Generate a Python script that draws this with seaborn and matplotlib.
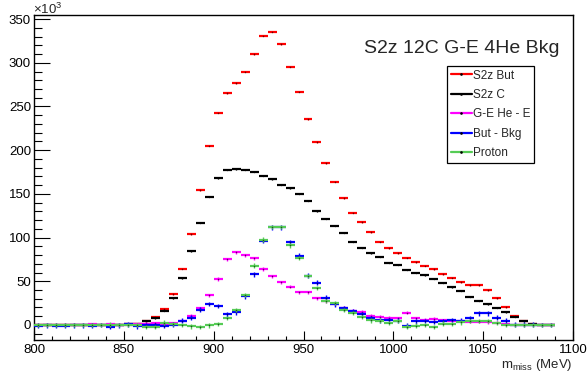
import numpy as np
import pandas as pd
import matplotlib
matplotlib.use("Agg")
import matplotlib.pyplot as plt
from matplotlib.lines import Line2D
import seaborn as sns

# Histogram binning: 5 MeV bins starting at 800 MeV
bin_low = 800.0
bin_width = 5.0

# Bin contents, in units of 10^3 counts
s2z_but = [0.0, 0.0, 0.0, 0.0, 0.0, 0.0, 0.0, 0.0, 0.0, 0.3,
           1.2, 1.0, 4.0, 9.2, 18.0, 35.0, 64.1, 104.1, 154.1, 205.2,
           242.9, 265.3, 276.7, 289.7, 309.7, 330.7, 335.6, 321.3, 295.6, 266.9,
           235.5, 209.4, 185.0, 164.0, 145.0, 128.5, 117.5, 106.4, 95.3, 87.8,
           82.2, 77.2, 71.7, 67.9, 64.0, 58.0, 54.0, 49.0, 45.2, 45.2,
           39.8, 30.7, 20.0, 10.3, 4.6, 1.5, 0.2, 0.1]
s2z_c = [0.0, 0.0, 0.0, 0.0, 0.0, 0.0, 0.0, 0.0, 0.0, 0.2,
         1.5, 1.0, 4.2, 7.6, 16.4, 30.5, 53.6, 84.5, 117.1, 146.5,
         167.8, 177.4, 178.5, 177.4, 175.1, 170.5, 167.0, 160.4, 156.6, 150.1,
         142.1, 130.1, 121.8, 113.6, 105.4, 95.5, 88.5, 82.2, 77.9, 71.3,
         68.8, 63.3, 59.8, 56.8, 53.0, 48.4, 43.1, 38.9, 32.4, 27.8,
         23.7, 19.5, 14.7, 9.5, 4.0, 1.2, 0.2, 0.1]
ge_he_e = [0.3, 0.2, 0.5, 0.2, 0.3, 0.4, 1.0, 0.4, 0.6, 0.3,
           0.5, 0.6, 1.5, 1.9, 1.5, 1.9, 4.9, 10.3, 19.2, 34.2,
           52.6, 75.2, 83.2, 79.7, 76.1, 64.1, 55.9, 48.6, 43.7, 37.2,
           37.2, 30.5, 27.5, 24.0, 19.8, 16.0, 14.9, 10.6, 9.5, 8.4,
           7.5, 14.1, 7.6, 6.1, 6.9, 5.3, 4.9, 4.9, 3.8, 3.8,
           3.4, 2.6, 0.6, 0.3, 0.2, 0.1, 0.1, 0.1]
but_bkg = [-1.1, -0.3, -1.0, -1.1, -0.5, -0.2, -1.0, 0.0, -1.9, -0.3,
           0.9, -1.7, 0.0, -0.5, -0.9, 0.5, 5.1, 8.4, 17.2, 24.0,
           21.7, 12.4, 14.7, 32.6, 57.8, 96.1, 112.0, 111.8, 94.6, 79.1,
           56.1, 48.1, 31.2, 23.7, 19.1, 16.0, 12.2, 7.6, 5.3, 5.7,
           5.0, -1.0, 4.0, 4.6, 3.4, 4.2, 5.7, 4.9, 7.6, 13.5,
           13.5, 8.4, 4.9, 0.2, 0.1, 0.1, 0.0, 0.0]
proton = [0.3, 0.0, -0.3, 0.2, 0.0, 0.3, -0.2, 0.2, 0.5, 0.0,
          -0.3, 0.3, -2.5, -2.0, 2.8, 1.1, 0.3, -1.7, -2.3, -0.4,
          1.0, 8.2, 17.3, 34.5, 67.9, 97.6, 112.3, 112.3, 91.0, 76.7,
          56.1, 42.5, 27.5, 25.5, 17.2, 13.4, 8.8, 5.3, 5.0, 2.6,
          4.5, -1.9, -0.8, 0.0, -2.3, 1.5, 0.8, 3.0, 4.2, 4.6,
          4.6, 2.3, 0.0, 0.0, 0.0, 0.0, 0.0, 0.0]

# Statistical uncertainty per bin (10^3 counts) for each histogram
errors = {"S2z But": 0.6, "S2z C": 0.6, "G-E He - E": 1.8,
          "But - Bkg": 2.8, "Proton": 2.5}

series_names = ["S2z But", "S2z C", "G-E He - E", "But - Bkg", "Proton"]
series_values = [s2z_but, s2z_c, ge_he_e, but_bkg, proton]
colors = {"S2z But": "#ff0000", "S2z C": "#000000", "G-E He - E": "#ff00ff",
          "But - Bkg": "#0000ff", "Proton": "#55cc55"}

centers = bin_low + bin_width * (np.arange(len(s2z_but)) + 0.5)
df = pd.concat([pd.DataFrame({"m": centers, "counts": vals, "series": name})
                for name, vals in zip(series_names, series_values)],
               ignore_index=True)

sns.set_style("ticks")
plt.rcParams["font.family"] = ["Liberation Sans", "DejaVu Sans"]
plt.rcParams["mathtext.fontset"] = "custom"
plt.rcParams["mathtext.rm"] = "Liberation Sans"

fig = plt.figure(figsize=(5.88, 3.79), dpi=100)
fig.patch.set_facecolor("white")
ax = fig.add_axes([34 / 588, 1 - 340 / 379, (573 - 34) / 588, (340 - 15) / 379])
ax.set_facecolor("white")

for i, name in enumerate(series_names):
    sub = df[df["series"] == name]
    c = colors[name]
    ax.errorbar(sub["m"], sub["counts"], xerr=bin_width / 2, fmt="none",
                ecolor=c, elinewidth=1.6, capsize=0, zorder=2 + i)
    ax.errorbar(sub["m"], sub["counts"], yerr=errors[name], fmt="none",
                ecolor=c, elinewidth=1.0, capsize=0, zorder=2 + i)
    sns.scatterplot(data=sub, x="m", y="counts", ax=ax, color="black",
                    s=1.2, linewidth=0, alpha=0.6, legend=False,
                    zorder=2.5 + i)

ax.set_xlim(800, 1100)
ax.set_ylim(-17.2, 354.7)
ax.set_xticks(np.arange(800, 1101, 50))
ax.set_xticks(np.arange(800, 1101, 10), minor=True)
ax.set_yticks(np.arange(0, 351, 50))
ax.set_yticks(np.arange(-10, 355, 10), minor=True)
ax.set_xlabel("")
ax.set_ylabel("")

ax.tick_params(axis="both", which="both", direction="in", top=False,
               right=False, labelsize=9.5, colors="black", width=0.8)
ax.tick_params(axis="x", which="major", length=6.5, pad=3)
ax.tick_params(axis="x", which="minor", length=3.2)
ax.tick_params(axis="y", which="major", length=11.5, pad=2.2)
ax.tick_params(axis="y", which="minor", length=5.8)
for sp in ax.spines.values():
    sp.set_visible(True)
    sp.set_color("black")
    sp.set_linewidth(1.0)

fig.text(33 / 588, 1 - 14 / 379, r"$\mathregular{\times10^{3}}$",
         fontsize=9.5, ha="left", va="baseline")
fig.text(573 / 588, 1 - 368 / 379, r"$\mathregular{m_{miss}}$ (MeV)",
         fontsize=9.5, ha="right", va="baseline")
fig.text(559 / 588, 1 - 53 / 379, "S2z 12C G-E 4He Bkg",
         fontsize=14, ha="right", va="baseline")

handles = [Line2D([], [], color=colors[n], lw=1.6, marker="o", ms=0.9,
                  mfc="black", mec="black") for n in series_names]
leg = fig.legend(handles, series_names, loc="upper left",
                 bbox_to_anchor=(447 / 588, 1 - 66 / 379),
                 bbox_transform=fig.transFigure, fontsize=8.5,
                 frameon=True, fancybox=False, shadow=False, framealpha=1,
                 edgecolor="black", borderpad=0.3, labelspacing=0.63,
                 handlelength=1.8, handletextpad=0.12, borderaxespad=0)
leg.get_frame().set_linewidth(0.9)

fig.savefig("out.png", dpi=100, facecolor="white")
